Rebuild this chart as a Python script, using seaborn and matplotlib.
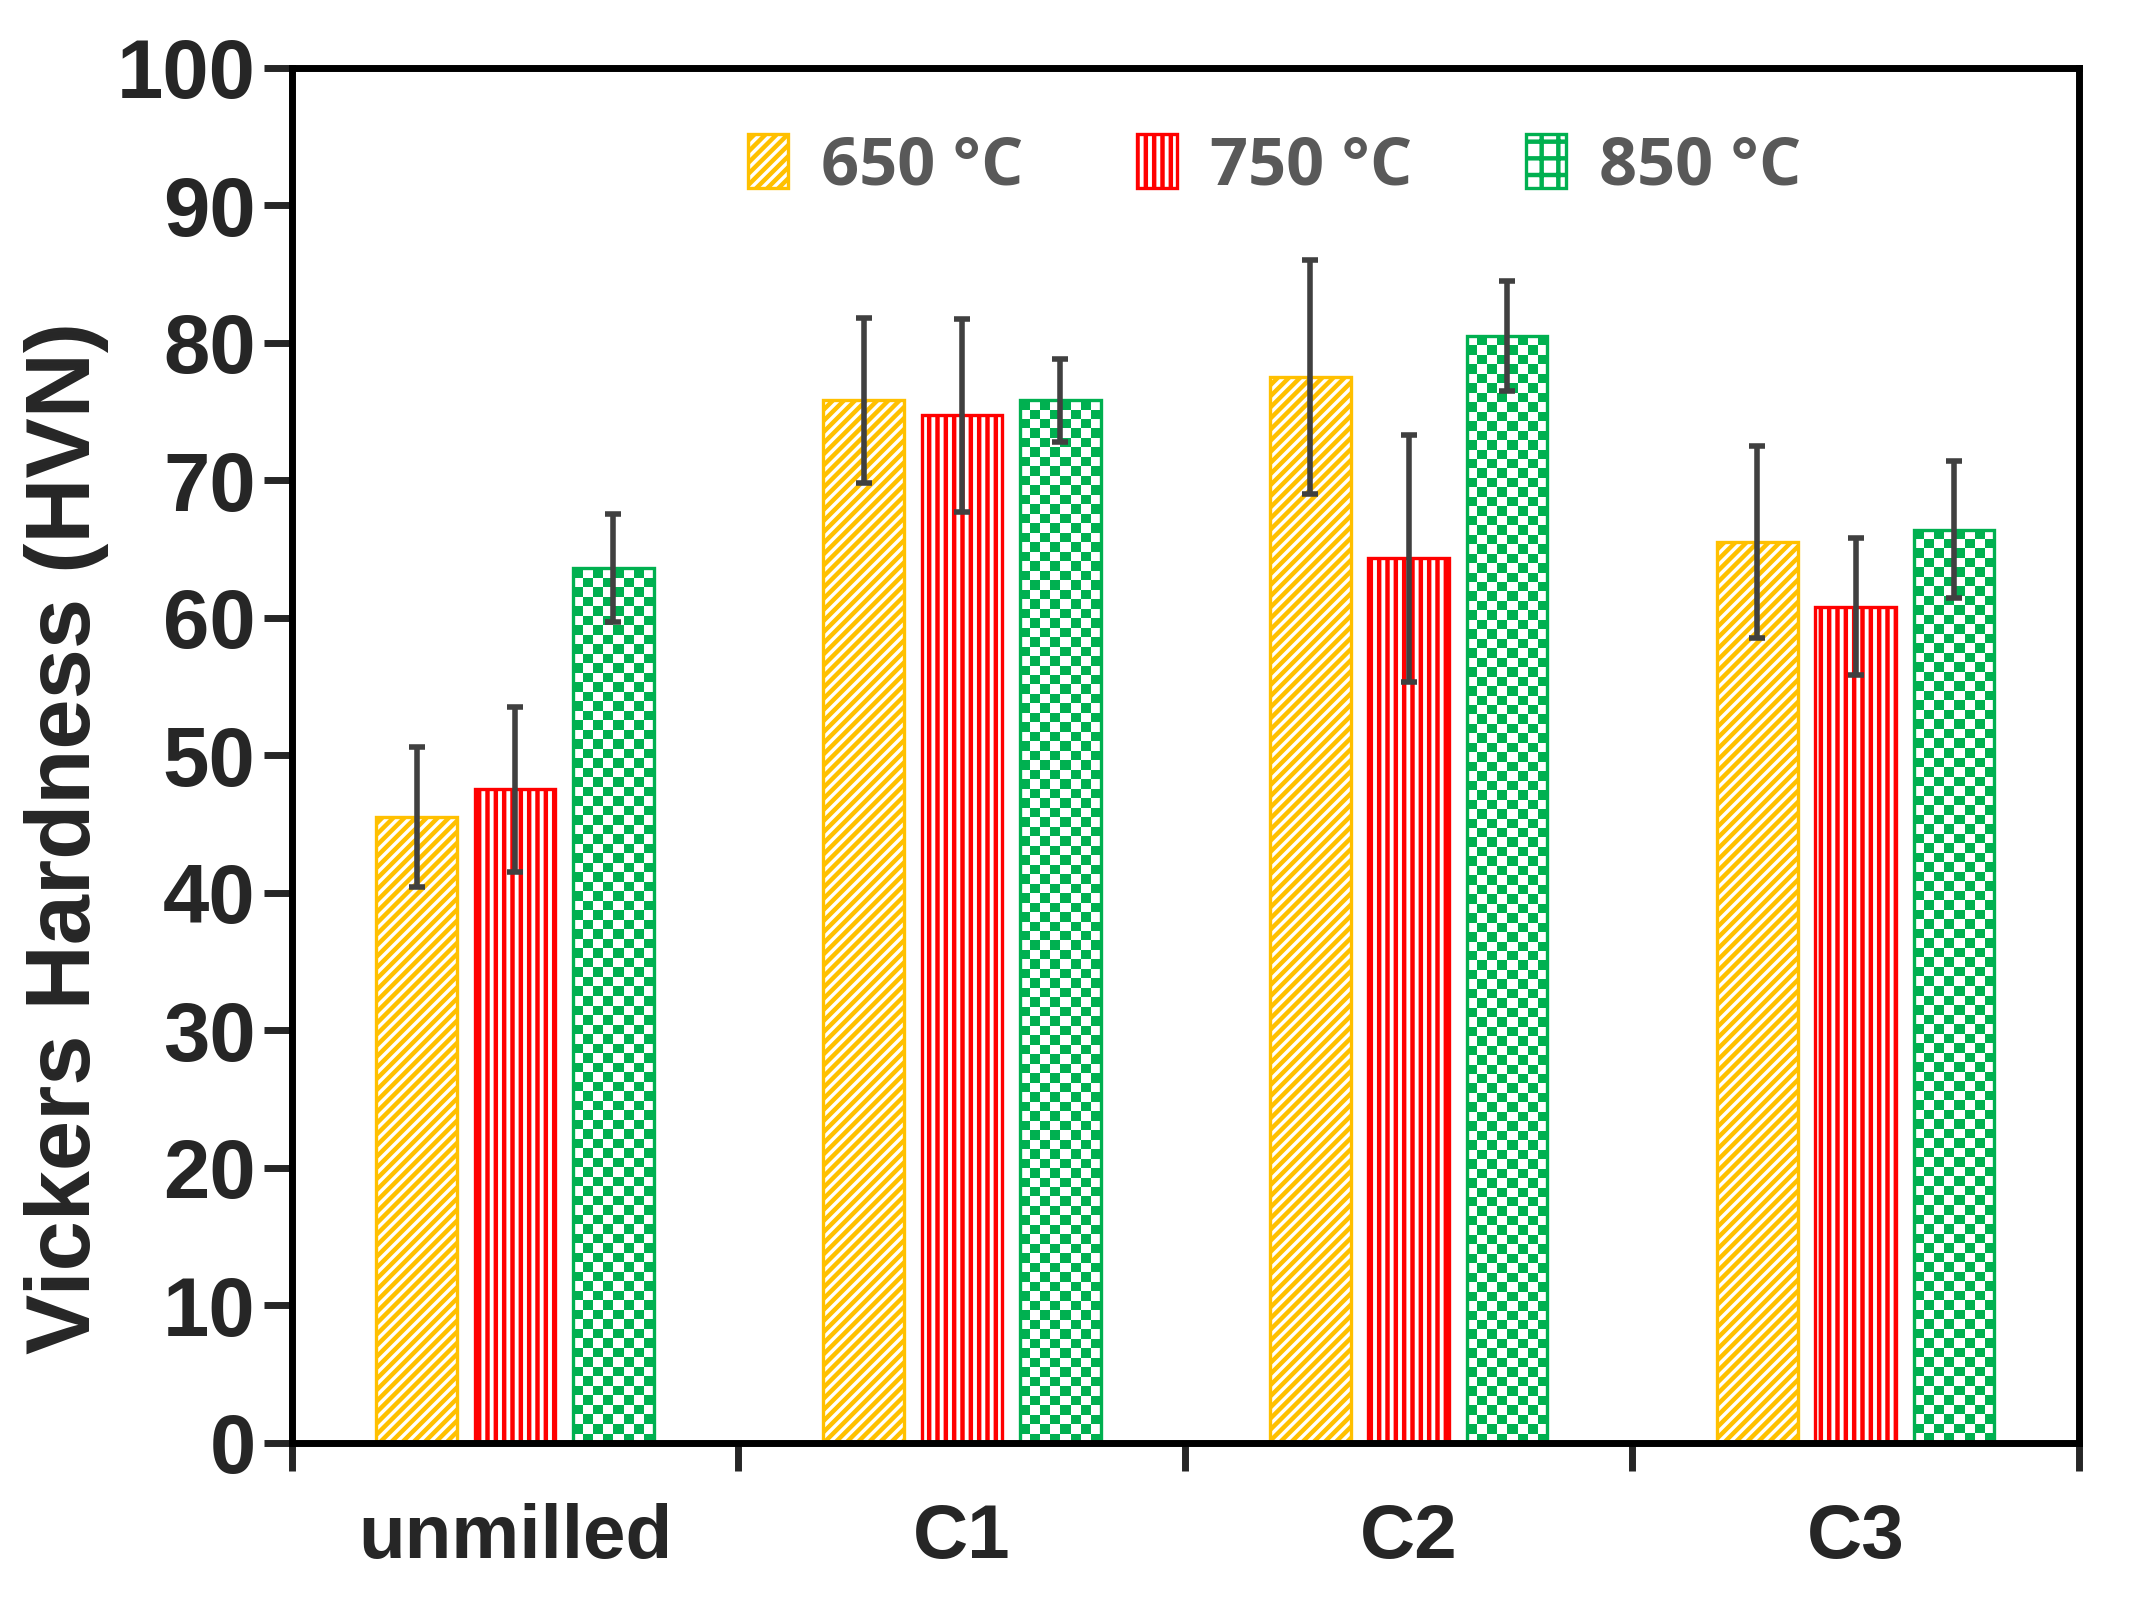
import numpy as np
import pandas as pd
import matplotlib
matplotlib.use('Agg')
import matplotlib.pyplot as plt
import seaborn as sns
from matplotlib.patches import Patch
from matplotlib.colors import ListedColormap

# values
samples = ['unmilled', 'C1', 'C2', 'C3']
temps = ['650 °C', '750 °C', '850 °C']
hv_650 = [45.5, 75.8, 77.5, 65.5]
hv_750 = [47.5, 74.7, 64.3, 60.8]
hv_850 = [63.6, 75.8, 80.5, 66.4]
err_650 = [5.1, 6.0, 8.5, 7.0]
err_750 = [6.0, 7.0, 9.0, 5.0]
err_850 = [3.9, 3.0, 4.0, 5.0]

colors = ['#FFC000', '#FF0000', '#00B050']
hatches = ['//////', '||||', '++']
hatch_lw = [1.6, 1.6, 3.0]

rows = []
for t, vals, errs in zip(temps, [hv_650, hv_750, hv_850], [err_650, err_750, err_850]):
    for s, v, e in zip(samples, vals, errs):
        rows.append({'sample': s, 'temp': t, 'hv': v, 'err': e})
df = pd.DataFrame(rows)

sns.set_style('white')
plt.rcParams['font.family'] = ['Liberation Sans', 'DejaVu Sans']
plt.rcParams['hatch.linewidth'] = 1.6

fig = plt.figure(figsize=(10.645, 8.045), dpi=200)
ax = fig.add_axes([0.137, 0.1034, 0.8395, 0.8546])

sns.barplot(data=df, x='sample', y='hv', hue='temp', order=samples, hue_order=temps,
            palette=['white'] * 3, width=0.66, gap=0.18, errorbar=None, ax=ax, legend=False)

ax.set_ylim(0, 100)
ax.set_xlim(-0.5, 3.5)

# checkerboard fill, cell size in pixels
cell_px = 9.5
checker_cmap = ListedColormap(['white', colors[2]])


def checker_fill(bar):
    x0, y0 = bar.get_x(), bar.get_y()
    w, h = bar.get_width(), bar.get_height()
    p0 = ax.transData.transform((x0, y0))
    p1 = ax.transData.transform((x0 + w, y0 + h))
    nx = max(1, int(round(abs(p1[0] - p0[0]) / cell_px)))
    ny = max(1, int(round(abs(p1[1] - p0[1]) / cell_px)))
    grid = (np.add.outer(np.arange(ny), np.arange(nx)) % 2).astype(float)
    im = ax.imshow(grid, cmap=checker_cmap, vmin=0, vmax=1, interpolation='nearest',
                   extent=(x0, x0 + w, y0, y0 + h), origin='lower', aspect='auto', zorder=1.5)
    im.set_clip_path(bar)


# style bars per temperature and add error bars
for i, t in enumerate(temps):
    cont = ax.containers[i]
    sub = df[df['temp'] == t].set_index('sample').loc[samples]
    xs = []
    for bar in cont:
        bar.set_edgecolor(colors[i])
        bar.set_linewidth(1.2)
        if i == 2:
            bar.set_facecolor('none')
            bar.set_zorder(2)
            checker_fill(bar)
        else:
            bar.set_facecolor('white')
            bar.set_hatch(hatches[i])
            try:
                bar.set_hatch_linewidth(hatch_lw[i])
            except AttributeError:
                pass
        xs.append(bar.get_x() + bar.get_width() / 2)
    ax.errorbar(xs, sub['hv'], yerr=sub['err'], fmt='none', ecolor='#404040',
                elinewidth=2, capsize=3, capthick=2, zorder=5)

ax.set_ylim(0, 100)
ax.set_xlim(-0.5, 3.5)
ax.set_yticks(np.arange(0, 101, 10))
ax.set_xticks([-0.5, 0.5, 1.5, 2.5, 3.5])
ax.set_xticklabels([])
ax.tick_params(axis='x', direction='out', length=10, width=2.5, bottom=True)
ax.tick_params(axis='y', direction='out', length=10, width=2.5, left=True, labelsize=30, pad=3)
for lab in ax.get_yticklabels():
    lab.set_fontweight('bold')
for i, s in enumerate(samples):
    ax.text(i, -4.4, s, ha='center', va='top', fontsize=27.5, fontweight='bold',
            transform=ax.transData)
for sp in ax.spines.values():
    sp.set_linewidth(2.5)
    sp.set_color('black')

ax.set_xlabel('')
ax.set_ylabel('Vickers Hardness (HVN)', fontsize=32.5, fontweight='bold')
ax.yaxis.set_label_coords(-0.102, 0.44)

handles = []
for i in range(3):
    h = Patch(facecolor='white', edgecolor=colors[i], hatch=hatches[i], linewidth=1.2)
    try:
        h.set_hatch_linewidth(hatch_lw[i])
    except AttributeError:
        pass
    handles.append(h)
leg = ax.legend(handles, temps, loc='center', bbox_to_anchor=(0.55, 0.928), ncol=3, frameon=False,
                handlelength=0.6, handleheight=0.85, handletextpad=0.5, columnspacing=1.7,
                prop={'family': ['Open Sans', 'DejaVu Sans'], 'size': 24, 'weight': 'bold'})
for txt in leg.get_texts():
    txt.set_color('#595959')

fig.savefig('out.png', dpi=200)
